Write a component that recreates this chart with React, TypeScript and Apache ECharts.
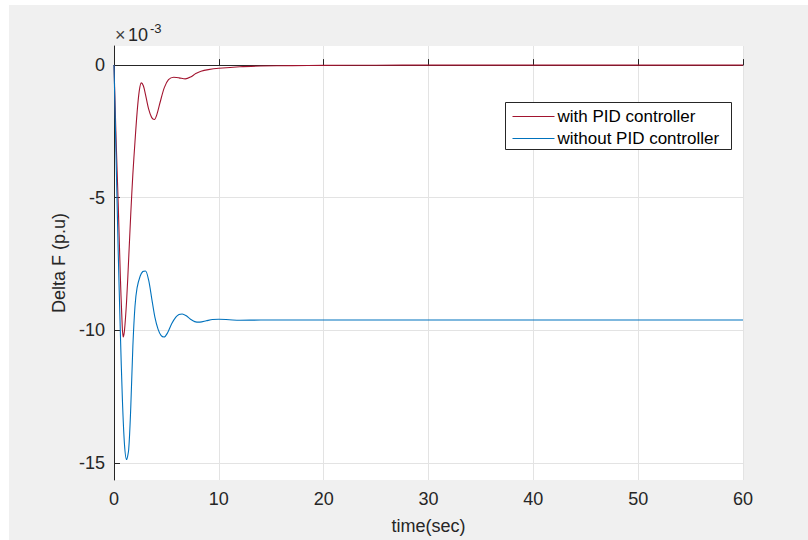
import React, { useEffect, useRef } from "react";
import * as echarts from "echarts";

// time (sec)
const pidTime = [0, 0.2, 0.4, 0.6, 0.75, 0.87, 1.0, 1.2, 1.4, 1.6, 1.8, 2.0, 2.2, 2.4, 2.6, 2.8, 3.0, 3.3, 3.6, 3.85, 4.1, 4.4, 4.8, 5.2, 5.7, 6.2, 6.8, 7.3, 7.8, 8.3, 9.0, 10, 12, 14, 17, 20, 25, 30, 40, 50, 60];
// Delta F (x1e-3 p.u) with PID controller
const pidValues = [0, -2.8, -5.2, -7.9, -9.5, -10.25, -10.0, -8.9, -7.3, -5.6, -4.1, -2.9, -1.8, -1.0, -0.67, -0.78, -1.1, -1.65, -1.98, -2.05, -1.85, -1.4, -0.85, -0.55, -0.46, -0.48, -0.52, -0.45, -0.32, -0.23, -0.17, -0.12, -0.06, -0.035, -0.02, -0.01, -0.004, 0, 0, 0, 0];

const noPidTime = [0, 0.2, 0.4, 0.6, 0.8, 1.0, 1.2, 1.4, 1.6, 1.8, 2.0, 2.2, 2.5, 2.75, 3.0, 3.3, 3.6, 3.9, 4.2, 4.5, 4.77, 5.1, 5.5, 5.9, 6.2, 6.5, 6.9, 7.3, 7.7, 8.2, 8.8, 9.4, 10, 11, 12, 14, 20, 30, 40, 50, 60];
// Delta F (x1e-3 p.u) without PID controller
const noPidValues = [0, -3.5, -7.0, -10.0, -12.6, -14.3, -14.87, -14.5, -12.9, -10.6, -9.1, -8.4, -7.95, -7.78, -7.76, -8.1, -8.8, -9.5, -9.95, -10.2, -10.25, -10.1, -9.75, -9.5, -9.4, -9.38, -9.45, -9.58, -9.67, -9.69, -9.64, -9.59, -9.58, -9.6, -9.62, -9.61, -9.61, -9.61, -9.61, -9.61, -9.61];

const seriesNames = ["with PID controller", "without PID controller"];
const yTicks = [-15, -10, -5, 0];
const xTicks = [0, 10, 20, 30, 40, 50, 60];

const FONT = "'Liberation Sans', Arial, Helvetica, sans-serif";
const TXT = "#262626";

export default function App() {
  const ref = useRef<HTMLDivElement>(null);
  useEffect(() => {
    if (!ref.current) return;
    const chart = echarts.init(ref.current, null, { renderer: "svg" });
    const pair = (t: number[], v: number[]) => t.map((x, i) => [x, v[i]]);
    chart.setOption({
      animation: false,
      backgroundColor: "#f0f0f0",
      textStyle: { fontFamily: FONT },
      grid: {
        left: 105,
        top: 41,
        width: 629,
        height: 437,
        show: true,
        backgroundColor: "#ffffff",
        borderWidth: 0,
      },
      xAxis: {
        type: "value",
        min: 0,
        max: 60,
        interval: 10,
        name: "time(sec)",
        nameLocation: "middle",
        nameGap: 37,
        nameTextStyle: { color: TXT, fontSize: 18, fontFamily: FONT },
        axisLine: { show: true, lineStyle: { color: TXT, width: 1 } },
        axisTick: { show: true, inside: true, length: 6, lineStyle: { color: TXT } },
        axisLabel: { color: TXT, fontSize: 18, margin: 10, fontFamily: FONT, customValues: xTicks },
        splitLine: { show: true, lineStyle: { color: "#e3e3e3", width: 1 } },
      },
      yAxis: {
        type: "value",
        min: -15.64,
        max: 0.72,
        name: "Delta F (p.u)",
        nameLocation: "middle",
        nameGap: 44,
        nameTextStyle: { color: TXT, fontSize: 18, fontFamily: FONT },
        axisLine: { show: true, lineStyle: { color: TXT, width: 1 } },
        axisTick: { show: true, inside: true, length: 6, lineStyle: { color: TXT }, customValues: yTicks },
        axisLabel: { color: TXT, fontSize: 18, margin: 9, fontFamily: FONT, customValues: yTicks },
        splitLine: { show: true, lineStyle: { color: "#e3e3e3", width: 1 } },
      },
      legend: {
        orient: "vertical",
        left: 503,
        top: 103,
        padding: 0,
        itemGap: 5,
        itemWidth: 42,
        itemHeight: 16,
        itemStyle: { opacity: 0 },
        lineStyle: { width: 1 },
        textStyle: { color: "#000000", fontSize: 17, fontFamily: FONT, padding: [0, 0, 0, -2] },
        data: seriesNames,
        z: 10,
      },
      graphic: [
        {
          type: "rect",
          z: 5,
          shape: { x: 496.5, y: 97.5, width: 226, height: 47 },
          style: { fill: "#ffffff", stroke: "#262626", lineWidth: 1 },
        },
        {
          type: "text",
          x: 106,
          y: 21,
          style: { text: "×", fontSize: 18, fill: "#404040", fontFamily: FONT },
        },
        {
          type: "text",
          x: 119,
          y: 21,
          style: { text: "10", fontSize: 18, fill: TXT, fontFamily: FONT },
        },
        {
          type: "text",
          x: 141,
          y: 17,
          style: { text: "-3", fontSize: 13, fill: TXT, fontFamily: FONT },
        },
      ],
      series: [
        {
          name: seriesNames[0],
          type: "line",
          data: pair(pidTime, pidValues),
          symbol: "none",
          smooth: 0.3,
          lineStyle: { color: "#A2142F", width: 1.1 },
          itemStyle: { color: "#A2142F" },
          z: 2,
        },
        {
          name: seriesNames[1],
          type: "line",
          data: pair(noPidTime, noPidValues),
          symbol: "none",
          smooth: 0.3,
          lineStyle: { color: "#0072BD", width: 1.1 },
          itemStyle: { color: "#0072BD" },
          z: 3,
        },
      ],
    });
    return () => chart.dispose();
  }, []);
  return (
    <div style={{ position: "absolute", left: 0, top: 0, width: 808, height: 540, background: "#ffffff" }}>
      <div ref={ref} style={{ position: "absolute", left: 9, top: 5, width: 799, height: 535 }} />
    </div>
  );
}
